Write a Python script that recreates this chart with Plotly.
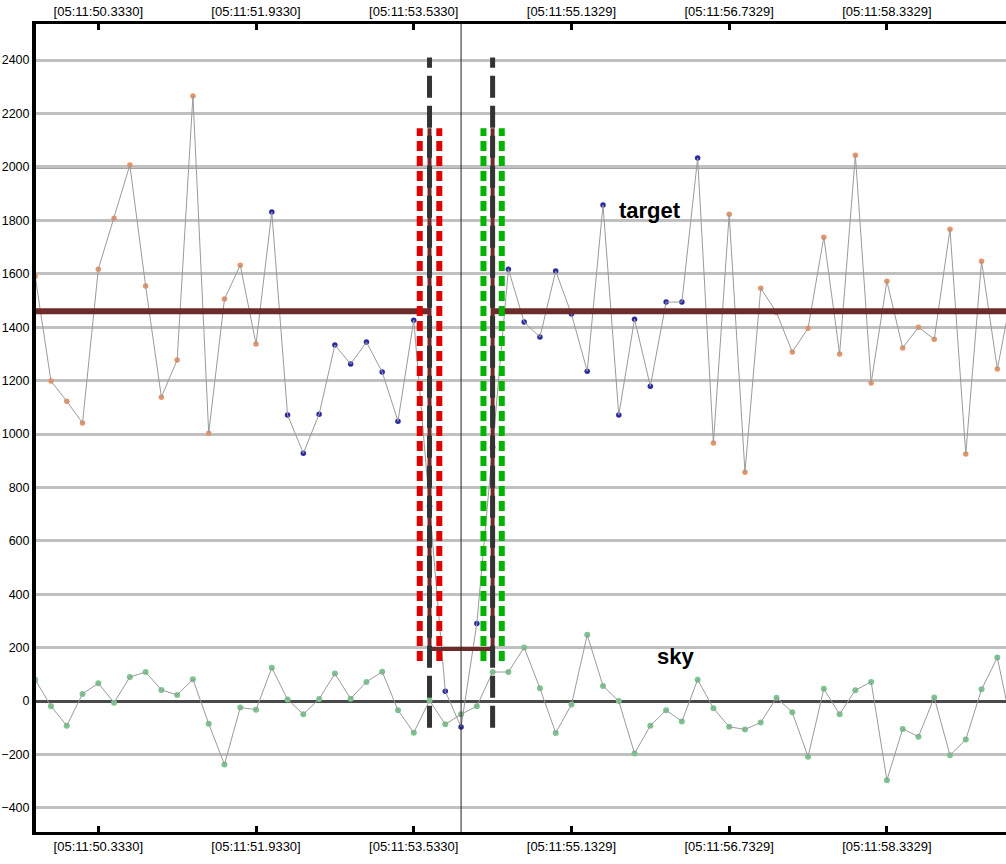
import plotly.graph_objects as go

# x ticks (sample index -> timestamp label)
tick_samples = [4, 14, 24, 34, 44, 54]
tick_labels = ['[05:11:50.3330]', '[05:11:51.9330]', '[05:11:53.5330]',
               '[05:11:55.1329]', '[05:11:56.7329]', '[05:11:58.3329]']

target = [1590, 1198, 1123, 1041, 1617, 1808, 2007, 1554, 1138, 1277,
          2265, 1003, 1505, 1632, 1337, 1831, 1071, 928, 1074, 1333,
          1262, 1344, 1232, 1048, 1426, 730, 37, -97, 291, 950,
          1617, 1419, 1363, 1610, 1449, 1235, 1857, 1071, 1430, 1179,
          1494, 1494, 2033, 966, 1823, 857, 1546, 1455, 1307, 1396,
          1737, 1300, 2044, 1191, 1572, 1322, 1400, 1355, 1767, 925,
          1647, 1243, 1550]

sky = [80, -19, -92, 27, 67, -6, 90, 109, 42, 23,
       82, -85, -237, -24, -32, 125, 6, -49, 8, 103,
       9, 72, 110, -34, -118, 2, -87, -49, -19, 109,
       109, 201, 48, -119, -13, 248, 57, 0, -196, -92,
       -34, -76, 80, -27, -96, -106, -80, 13, -42, -208,
       46, -49, 41, 72, -296, -104, -133, 14, -203, -144,
       44, 163, -120]

# samples drawn in blue (fit window)
fit_first, fit_last = 15, 42

# levels / markers
target_level = 1460
sky_level = 195
limit_level = 2000
left_cut, right_cut = 25, 29
cursor = 27

marker_colors = ['#2b2ba3' if fit_first <= i <= fit_last else '#e8946a' for i in range(len(target))]

fig = go.Figure()
fig.add_trace(go.Scatter(y=sky, mode='markers', marker={'color': '#7cc490', 'size': 6}, hoverinfo='skip'))
fig.add_trace(go.Scatter(y=sky, mode='lines', line={'color': '#9a9a9a', 'width': 1}))
fig.add_trace(go.Scatter(y=target, mode='markers', marker={'color': marker_colors, 'size': 5.5}))
fig.add_trace(go.Scatter(y=target, mode='lines', line={'color': '#9a9a9a', 'width': 1}))
# dummy trace so the top axis is drawn
fig.add_trace(go.Scatter(x=[tick_samples[0]], y=[None], xaxis='x2', showlegend=False))

maroon = '#6e2b2b'
dots = '10px,5px'
shapes = [
    # dark reference line
    dict(type='line', xref='paper', x0=0, x1=1, y0=limit_level, y1=limit_level,
         line={'color': '#4a4a4a', 'width': 3}, layer='below'),
    # target level, broken at the cut region
    dict(type='line', x0=-1, x1=left_cut, y0=target_level, y1=target_level, line={'color': maroon, 'width': 6}),
    dict(type='line', x0=right_cut, x1=70, y0=target_level, y1=target_level, line={'color': maroon, 'width': 6}),
    # sky level between the cuts
    dict(type='line', x0=left_cut, x1=right_cut, y0=sky_level, y1=sky_level, line={'color': maroon, 'width': 4}),
    dict(type='line', x0=left_cut, x1=left_cut, y0=sky_level, y1=2145, line={'color': maroon, 'width': 4}),
    dict(type='line', x0=right_cut, x1=right_cut, y0=sky_level, y1=2145, line={'color': maroon, 'width': 4}),
    # red / green dotted bands
    dict(type='line', x0=left_cut - 0.62, x1=left_cut - 0.62, y0=150, y1=2145,
         line={'color': '#e00000', 'width': 6, 'dash': dots}),
    dict(type='line', x0=left_cut + 0.62, x1=left_cut + 0.62, y0=150, y1=2145,
         line={'color': '#e00000', 'width': 6, 'dash': dots}),
    dict(type='line', x0=right_cut - 0.58, x1=right_cut - 0.58, y0=150, y1=2145,
         line={'color': '#00b400', 'width': 6, 'dash': dots}),
    dict(type='line', x0=right_cut + 0.58, x1=right_cut + 0.58, y0=150, y1=2145,
         line={'color': '#00b400', 'width': 6, 'dash': dots}),
    # black dashed cuts
    dict(type='line', x0=left_cut, x1=left_cut, y0=-100, y1=2410,
         line={'color': '#333333', 'width': 5, 'dash': '22px,8px'}),
    dict(type='line', x0=right_cut, x1=right_cut, y0=-100, y1=2410,
         line={'color': '#333333', 'width': 5, 'dash': '22px,8px'}),
    # cursor
    dict(type='line', x0=cursor, x1=cursor, yref='paper', y0=0, y1=1, line={'color': '#222222', 'width': 1}),
]

xaxis_style = dict(range=[0.05, 61.55], tickmode='array', tickvals=tick_samples, ticktext=tick_labels,
                   ticks='inside', ticklen=6, tickwidth=3, tickcolor='black', showline=True, linewidth=3,
                   linecolor='black', showgrid=False, zeroline=False,
                   tickfont={'family': 'Liberation Sans', 'size': 13, 'color': 'black'})

fig.update_layout(
    width=1006, height=864, margin={'l': 36, 'r': 0, 't': 24, 'b': 32},
    plot_bgcolor='white', paper_bgcolor='white', showlegend=False,
    xaxis=xaxis_style,
    xaxis2=dict(xaxis_style, overlaying='x', side='top'),
    yaxis=dict(range=[-490, 2535], dtick=200, showgrid=True, gridcolor='#c0c0c0', gridwidth=3,
               zeroline=True, zerolinecolor='#4a4a4a', zerolinewidth=3, showline=True, linewidth=4,
               linecolor='black', ticks='', automargin=False,
               tickfont={'family': 'Liberation Sans', 'size': 12.5, 'color': 'black'}),
    shapes=shapes,
    annotations=[
        dict(x=39, y=1835, text='<b>target</b>', showarrow=False,
             font={'family': 'Liberation Sans', 'size': 22, 'color': 'black'}),
        dict(x=40.6, y=168, text='<b>sky</b>', showarrow=False,
             font={'family': 'Liberation Sans', 'size': 22, 'color': 'black'}),
    ],
)

fig.write_html('out.html', config={'displayModeBar': False},
               post_script="document.body.style.margin = '0';")
